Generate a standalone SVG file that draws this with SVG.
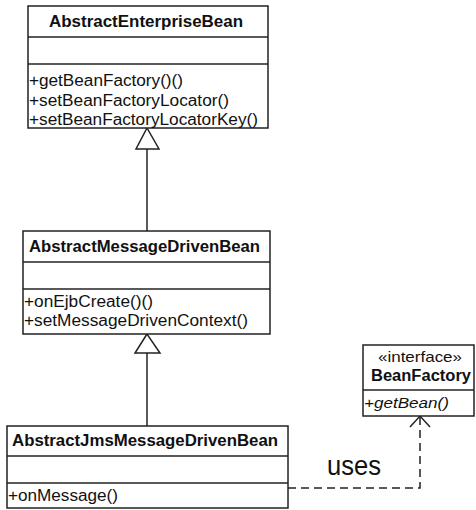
<svg xmlns="http://www.w3.org/2000/svg" width="476" height="510" viewBox="0 0 476 510">
<style>
.box{fill:#fff;stroke:#222;stroke-width:1.5}
.div{stroke:#222;stroke-width:1.5}
.t{font-family:"Liberation Sans",Arial,sans-serif;font-size:16px;fill:#111}
.b{font-weight:bold}
.i{font-style:italic}
.s{font-size:15px}
.edge{fill:none;stroke:#222;stroke-width:1.5}
.tri{fill:#fff;stroke:#222;stroke-width:1.5}
</style>
<rect width="476" height="510" fill="#fff"/>
<g id="connectors">
<line class="edge" x1="147" y1="149" x2="147" y2="231"/>
<polygon class="tri" points="147,128 136,149 159,149"/>
<line class="edge" x1="147" y1="353" x2="147" y2="426"/>
<polygon class="tri" points="147,334 135,353 160,353"/>
<path class="edge" d="M288,488 H420 V417" stroke-dasharray="8,5" stroke-width="2"/>
<path class="edge" d="M410,427 L420,416 L430,427"/>
<text class="t" x="327" y="475" textLength="54" lengthAdjust="spacingAndGlyphs" style="font-size:27px">uses</text>
</g>
<g id="AbstractEnterpriseBean">
<rect class="box" x="28" y="6" width="240" height="122"/>
<line class="div" x1="28" y1="37" x2="268" y2="37"/>
<line class="div" x1="28" y1="64" x2="268" y2="64"/>
<text class="t b" x="49" y="27" textLength="194" lengthAdjust="spacingAndGlyphs">AbstractEnterpriseBean</text>
<text class="t" x="29" y="86" textLength="154" lengthAdjust="spacingAndGlyphs">+getBeanFactory()()</text>
<text class="t" x="29" y="106" textLength="200" lengthAdjust="spacingAndGlyphs">+setBeanFactoryLocator()</text>
<text class="t" x="29" y="125" textLength="229" lengthAdjust="spacingAndGlyphs">+setBeanFactoryLocatorKey()</text>
</g>
<g id="AbstractMessageDrivenBean">
<rect class="box" x="23" y="231" width="247" height="103"/>
<line class="div" x1="23" y1="262" x2="270" y2="262"/>
<line class="div" x1="23" y1="289" x2="270" y2="289"/>
<text class="t b" x="29" y="252" textLength="231" lengthAdjust="spacingAndGlyphs">AbstractMessageDrivenBean</text>
<text class="t" x="24" y="307" textLength="129" lengthAdjust="spacingAndGlyphs">+onEjbCreate()()</text>
<text class="t" x="24" y="326" textLength="224" lengthAdjust="spacingAndGlyphs">+setMessageDrivenContext()</text>
</g>
<g id="AbstractJmsMessageDrivenBean">
<rect class="box" x="7" y="426" width="281" height="82"/>
<line class="div" x1="7" y1="456" x2="288" y2="456"/>
<line class="div" x1="7" y1="483" x2="288" y2="483"/>
<text class="t b" x="12" y="446" textLength="266" lengthAdjust="spacingAndGlyphs">AbstractJmsMessageDrivenBean</text>
<text class="t" x="8" y="501" textLength="110" lengthAdjust="spacingAndGlyphs">+onMessage()</text>
</g>
<g id="BeanFactory">
<rect class="box" x="363" y="345" width="111" height="71"/>
<line class="div" x1="363" y1="390" x2="474" y2="390"/>
<text class="t s" x="378" y="362" textLength="84" lengthAdjust="spacingAndGlyphs">«interface»</text>
<text class="t b" x="371" y="381" textLength="100" lengthAdjust="spacingAndGlyphs">BeanFactory</text>
<text class="t i s" x="364" y="408" textLength="85" lengthAdjust="spacingAndGlyphs">+getBean()</text>
</g>
</svg>
